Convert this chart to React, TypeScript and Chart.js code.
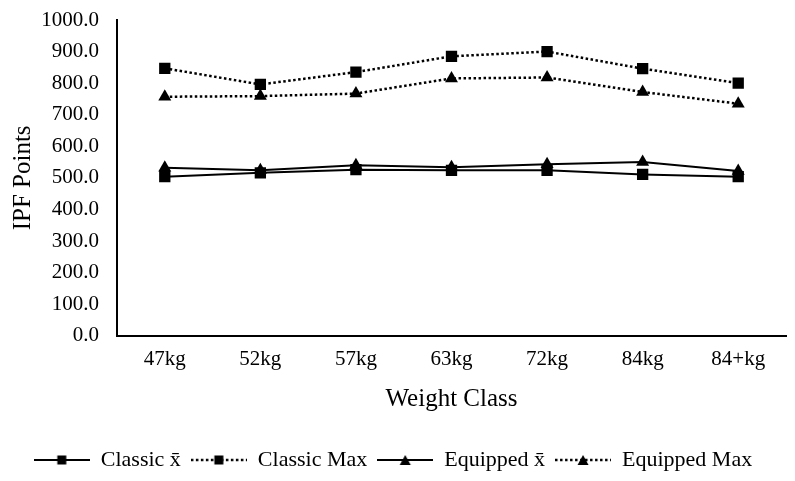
import React, { useEffect, useRef } from "react";
import { Chart, registerables } from "chart.js";

Chart.register(...registerables);

const categories = ["47kg", "52kg", "57kg", "63kg", "72kg", "84kg", "84+kg"];
const classicMean = [504, 516, 526, 524, 524, 511, 504];
const classicMax = [847, 796, 835, 885, 900, 846, 800];
const equippedMean = [532, 524, 540, 534, 543, 550, 522];
const equippedMax = [757, 759, 767, 815, 818, 772, 735];
const seriesNames = ["Classic x\u0304", "Classic Max", "Equipped x\u0304", "Equipped Max"];

const FONT = "'Liberation Serif', 'Times New Roman', serif";
const ICON_W = 56;

function legendIcon(dashed: boolean, marker: "rect" | "triangle"): HTMLCanvasElement {
  const c = document.createElement("canvas");
  c.width = ICON_W;
  c.height = 14;
  const ctx = c.getContext("2d")!;
  const cx = ICON_W / 2;
  ctx.strokeStyle = "#000";
  ctx.fillStyle = "#000";
  ctx.lineWidth = dashed ? 2.5 : 2;
  if (dashed) ctx.setLineDash([2.5, 2.5]);
  ctx.beginPath();
  ctx.moveTo(0, 7);
  ctx.lineTo(ICON_W, 7);
  ctx.stroke();
  ctx.setLineDash([]);
  if (marker === "rect") {
    ctx.fillRect(cx - 4.5, 2.5, 9, 9);
  } else {
    ctx.beginPath();
    ctx.moveTo(cx, 2);
    ctx.lineTo(cx + 5.5, 12);
    ctx.lineTo(cx - 5.5, 12);
    ctx.closePath();
    ctx.fill();
  }
  return c;
}

export default function App() {
  const ref = useRef<HTMLCanvasElement | null>(null);
  useEffect(() => {
    if (!ref.current) return;
    const mk = (label: string, data: number[], dashed: boolean, marker: "rect" | "triangle") => ({
      label,
      data,
      borderColor: "#000",
      backgroundColor: "#000",
      borderWidth: dashed ? 2.5 : 2,
      borderDash: dashed ? [2.5, 2.5] : [],
      pointStyle: marker,
      pointRadius: marker === "rect" ? 8 : 7.5,
      pointBackgroundColor: "#000",
      pointBorderColor: "#000",
      pointBorderWidth: 0,
      tension: 0,
      fill: false,
      _icon: legendIcon(dashed, marker),
    });
    const chart = new Chart(ref.current, {
      type: "line",
      data: {
        labels: categories,
        datasets: [
          mk(seriesNames[0], classicMean, false, "rect"),
          mk(seriesNames[1], classicMax, true, "rect"),
          mk(seriesNames[2], equippedMean, false, "triangle"),
          mk(seriesNames[3], equippedMax, true, "triangle"),
        ] as any,
      },
      options: {
        animation: false,
        responsive: false,
        maintainAspectRatio: false,
        layout: { padding: { left: 0, right: 9, top: 20, bottom: 0 } },
        plugins: {
          tooltip: { enabled: false },
          legend: {
            position: "bottom",
            labels: {
              usePointStyle: true,
              pointStyleWidth: ICON_W,
              boxHeight: 14,
              padding: 10,
              color: "#000",
              font: { family: FONT, size: 22 },
              generateLabels: (ch: any) =>
                ch.data.datasets.map((d: any, i: number) => ({
                  text: d.label,
                  pointStyle: d._icon,
                  fillStyle: "#000",
                  strokeStyle: "#000",
                  lineWidth: 0,
                  hidden: false,
                  datasetIndex: i,
                  fontColor: "#000",
                })),
            },
          },
        },
        scales: {
          x: {
            offset: true,
            grid: { display: false, drawTicks: false, offset: true },
            border: { display: true, color: "#000", width: 2 },
            ticks: { color: "#000", font: { family: FONT, size: 21 }, padding: 11 },
            title: {
              display: true,
              text: "Weight Class",
              color: "#000",
              font: { family: FONT, size: 25 },
              padding: { top: 1, bottom: 25 },
            },
          },
          y: {
            min: 0,
            max: 1000,
            grid: { display: false, drawTicks: false },
            border: { display: true, color: "#000", width: 2 },
            ticks: {
              stepSize: 100,
              color: "#000",
              font: { family: FONT, size: 21 },
              padding: 18,
              callback: (v: any) => Number(v).toFixed(1),
            },
            title: {
              display: true,
              text: "IPF Points",
              color: "#000",
              font: { family: FONT, size: 25 },
              padding: { top: 8, bottom: 0 },
            },
            afterFit: (s: any) => {
              s.width = 117;
              s.paddingTop = 0;
              s.paddingBottom = 0;
            },
          },
        },
      },
    });
    return () => chart.destroy();
  }, []);
  return (
    <div style={{ position: "fixed", left: 0, top: 0, width: 795, height: 481, background: "#fff" }}>
      <canvas ref={ref} width={795} height={481} style={{ display: "block" }} />
    </div>
  );
}
